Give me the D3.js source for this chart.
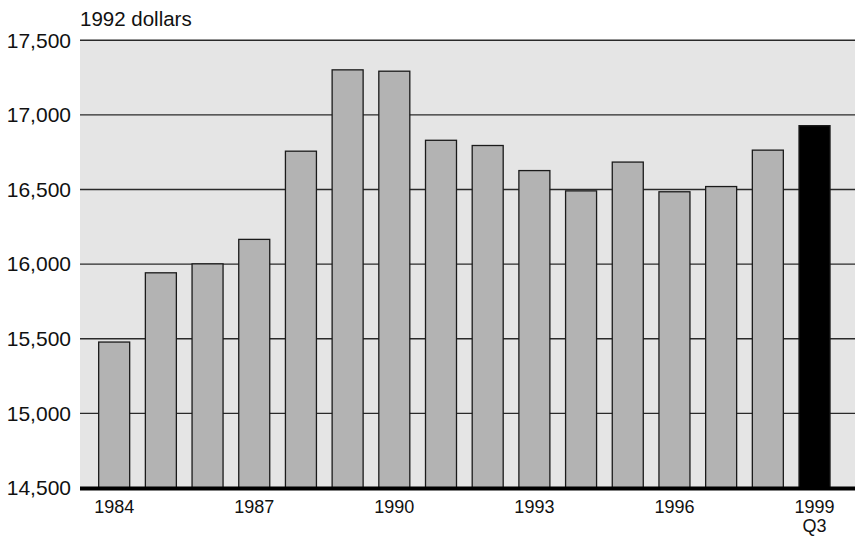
<!DOCTYPE html>
<html>
<head>
<meta charset="utf-8">
<script src="https://cdn.jsdelivr.net/npm/d3@7"></script>
<style>
  html, body { margin: 0; padding: 0; background: #fff; }
  svg { display: block; font-family: "Liberation Sans", Arial, Helvetica, sans-serif; }
</style>
</head>
<body>
<svg id="chart" width="855" height="536"></svg>
<script>
const years = ["1984","1985","1986","1987","1988","1989","1990","1991","1992","1993","1994","1995","1996","1997","1998","1999"];
const values = [15478, 15942, 16002, 16166, 16757, 17302, 17293, 16830, 16795, 16627, 16491, 16684, 16485, 16520, 16764, 16928];
const highlight = ["1999"];
const yTicks = [14500, 15000, 15500, 16000, 16500, 17000, 17500];
const xLabels = ["1984","1987","1990","1993","1996","1999"];
const xSubLabels = { "1999": "Q3" };
const unitLabel = "1992 dollars";

(function () {
const svg = d3.select("#chart");
const mLeft = 80, mRightBars = 848.7, mRightEdge = 855, mTop = 40.3, mBottom = 488;
const font = "Liberation Sans, Arial, sans-serif";

const x = d3.scaleBand().domain(years).range([mLeft, mRightBars]).paddingInner(0.336).paddingOuter(0.4);
const y = d3.scaleLinear().domain([14500, 17500]).range([mBottom, mTop]);

// background
svg.append("rect").attr("x", mLeft).attr("y", y(17500)).attr("width", mRightEdge - mLeft).attr("height", mBottom - y(17500)).attr("fill", "#e5e5e5");

// gridlines
svg.append("g").selectAll("line").data(yTicks.filter(d => d > 14500)).join("line")
  .attr("x1", mLeft).attr("x2", mRightEdge)
  .attr("y1", d => y(d)).attr("y2", d => y(d))
  .attr("stroke", "#2a2a2a").attr("stroke-width", 1.4);

// bars
svg.append("g").selectAll("rect").data(years).join("rect")
  .attr("x", d => x(d)).attr("width", x.bandwidth())
  .attr("y", (d, i) => y(values[i])).attr("height", (d, i) => y(14500) - y(values[i]))
  .attr("fill", d => highlight.includes(d) ? "#000" : "#b3b3b3")
  .attr("stroke", "#1a1a1a").attr("stroke-width", 1.3);

// baseline
svg.append("line").attr("x1", mLeft).attr("x2", mRightEdge).attr("y1", mBottom + 0.5).attr("y2", mBottom + 0.5)
  .attr("stroke", "#000").attr("stroke-width", 4);

// y axis labels
const yAxis = d3.axisLeft(y).tickValues(yTicks).tickSize(0).tickPadding(9).tickFormat(d3.format(","));
const gy = svg.append("g").attr("transform", `translate(${mLeft},0)`).call(yAxis);
gy.select(".domain").remove();
gy.selectAll("text").attr("font-size", 21).attr("fill", "#111").attr("font-family", font);

// x axis labels
const xAxis = d3.axisBottom(x).tickValues(xLabels).tickSize(0).tickPadding(12);
const gx = svg.append("g").attr("transform", `translate(0,${mBottom})`).call(xAxis);
gx.select(".domain").remove();
gx.selectAll("text").attr("font-size", 18).attr("fill", "#111").attr("font-family", font);
gx.selectAll(".tick").filter(d => xSubLabels[d]).append("text")
  .attr("y", 43.5).attr("text-anchor", "middle")
  .attr("font-size", 18).attr("fill", "#111").attr("font-family", font)
  .text(d => xSubLabels[d]);

// unit label
svg.append("text").attr("x", mLeft).attr("y", 25.7).attr("font-size", 20.5).attr("fill", "#111").attr("font-family", font).text(unitLabel);
})();
</script>
</body>
</html>
